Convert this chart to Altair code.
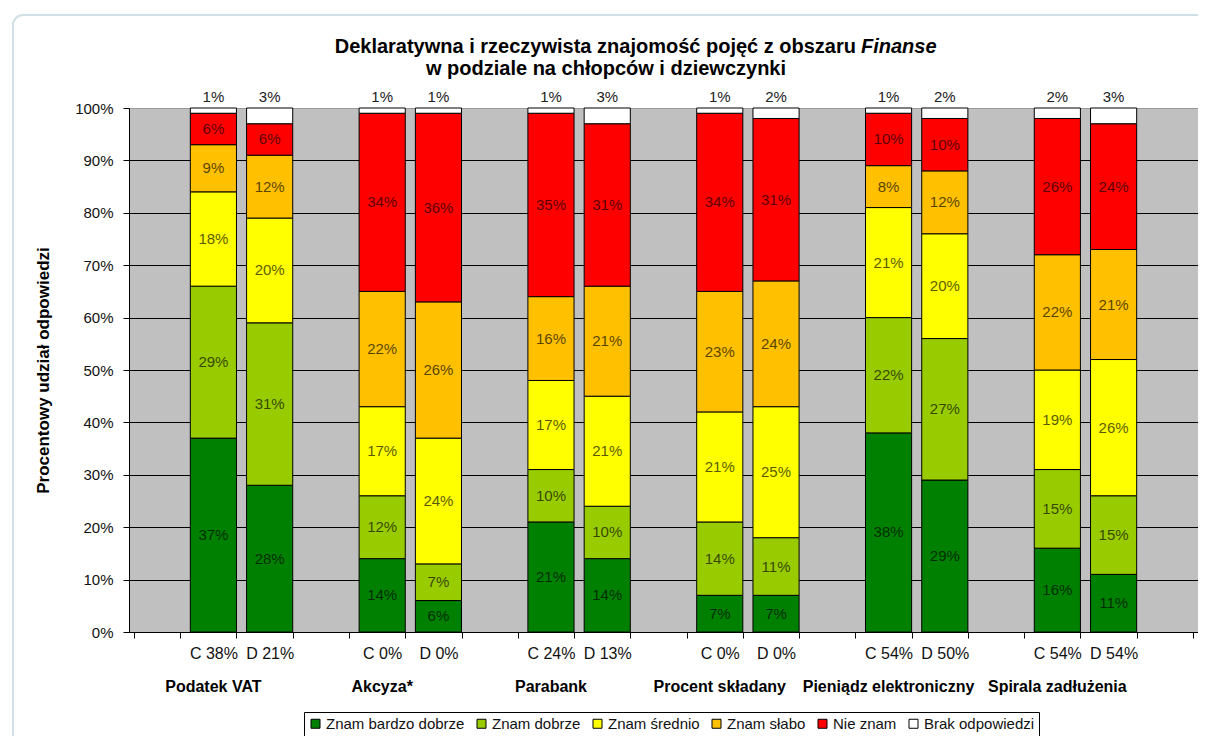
import json
import altair as alt
import pandas as pd

# ---------------- data ----------------
groups = ["Podatek VAT", "Akcyza*", "Parabank", "Procent składany",
          "Pieniądz elektroniczny", "Spirala zadłużenia"]
c_labels = ["C 38%", "C 0%", "C 24%", "C 0%", "C 54%", "C 54%"]
d_labels = ["D 21%", "D 0%", "D 13%", "D 0%", "D 50%", "D 54%"]
categories = ["Znam bardzo dobrze", "Znam dobrze", "Znam średnio",
              "Znam słabo", "Nie znam", "Brak odpowiedzi"]
colors = ["#008000", "#99CC00", "#FFFF00", "#FFC000", "#FF0000", "#FFFFFF"]

# boys (C)
c_bardzo = [37, 14, 21, 7, 38, 16]
c_dobrze = [29, 12, 10, 14, 22, 15]
c_srednio = [18, 17, 17, 21, 21, 19]
c_slabo = [9, 22, 16, 23, 8, 22]
c_nie = [6, 34, 35, 34, 10, 26]
c_brak = [1, 1, 1, 1, 1, 2]
# girls (D)
d_bardzo = [28, 6, 14, 7, 29, 11]
d_dobrze = [31, 7, 10, 11, 27, 15]
d_srednio = [20, 24, 21, 25, 20, 26]
d_slabo = [12, 26, 21, 24, 12, 21]
d_nie = [6, 36, 31, 31, 10, 24]
d_brak = [3, 1, 3, 2, 2, 3]

title_main = "Deklaratywna i rzeczywista znajomość pojęć z obszaru"
title_italic = "Finanse"
title_line2 = "w podziale na chłopców i dziewczynki"
y_title = "Procentowy udział odpowiedzi"

# ---------------- tables ----------------
c_vals = [c_bardzo, c_dobrze, c_srednio, c_slabo, c_nie, c_brak]
d_vals = [d_bardzo, d_dobrze, d_srednio, d_slabo, d_nie, d_brak]

slots = []
for i in range(len(groups)):
    slots += [f"e{i}", f"g{i}C", f"g{i}D"]
slots.append(f"e{len(groups)}")

rows = []
for i in range(len(groups)):
    for sex, vals in (("C", c_vals), ("D", d_vals)):
        for k, cat in enumerate(categories):
            v = vals[k][i]
            rows.append({"slot": f"g{i}{sex}", "cat": cat, "ord": k,
                         "value": v, "txt": f"{v}%"})
df = pd.DataFrame(rows)

label_keys, label_texts = [], []
for i in range(len(groups)):
    label_keys += [f"g{i}C", f"g{i}D"]
    label_texts += [c_labels[i], d_labels[i]]
keys_js = json.dumps(label_keys)
texts_js = json.dumps(label_texts)
label_expr = (f"indexof({keys_js}, datum.value) >= 0 ? "
              f"{texts_js}[indexof({keys_js}, datum.value)] : ''")

df_groups = pd.DataFrame({"slot": [f"g{i}C" for i in range(len(groups))],
                          "name": groups})

W, H = 1069, 524
FONT = "Liberation Sans, Arial, sans-serif"

x_scale = alt.Scale(domain=slots, paddingInner=0.18, paddingOuter=0.09)
x_axis = alt.Axis(title=None, labelExpr=label_expr, labelAngle=0,
                  tickBand="extent", tickSize=6, tickColor="black",
                  domainColor="black", labelFontSize=16, labelColor="#111111",
                  labelPadding=7, grid=False)
y_scale = alt.Scale(domain=[0, 100], nice=False)
y_axis = alt.Axis(values=list(range(0, 101, 10)),
                  labelExpr="datum.value + '%'",
                  title=y_title, titleFontSize=17, titleFontWeight="bold",
                  titleX=-86, titleY=H / 2, titleAngle=270,
                  titleAlign="center", titleBaseline="middle",
                  grid=True,
                  gridColor={"condition": {"test": "datum.value >= 100",
                                           "value": "#999999"},
                             "value": "black"},
                  gridWidth=1, tickSize=6, tickColor="black",
                  domainColor="black", labelFontSize=15, labelPadding=10,
                  labelColor="#111111")

x_enc = alt.X("slot:N", scale=x_scale, axis=x_axis, sort=slots)

base = alt.Chart(df).transform_stack(
    stack="value", groupby=["slot"], as_=["y0", "y1"],
    sort=[alt.SortField("ord", order="ascending")]
).transform_calculate(mid="(datum.y0 + datum.y1) / 2")

bars = base.mark_bar(stroke="black", strokeWidth=1).encode(
    x=x_enc,
    y=alt.Y("y0:Q", scale=y_scale, axis=y_axis),
    y2="y1:Q",
    color=alt.Color("cat:N", scale=alt.Scale(domain=categories, range=colors),
                    legend=alt.Legend(title=None, orient="none", legendX=175,
                                      legendY=604, direction="horizontal",
                                      columns=6, symbolType="square",
                                      symbolSize=81, symbolStrokeColor="black",
                                      symbolStrokeWidth=1, labelFontSize=15,
                                      labelColor="#111111", labelOffset=3,
                                      columnPadding=9, padding=4,
                                      strokeColor="black", fillColor="white",
                                      labelLimit=300)),
)

inner = base.transform_filter(alt.datum.cat != categories[-1]).mark_text(
    fontSize=15, color="black", opacity=0.65, baseline="middle"
).encode(x=x_enc, y=alt.Y("mid:Q", scale=y_scale, axis=y_axis), text="txt:N")

top = base.transform_filter(alt.datum.cat == categories[-1]).mark_text(
    fontSize=15, color="#222222", baseline="middle", dy=-11
).encode(x=x_enc, y=alt.Y("y1:Q", scale=y_scale, axis=y_axis), text="txt:N")

glabels = alt.Chart(df_groups).mark_text(
    fontSize=16, fontWeight="bold", color="black", baseline="middle"
).encode(x=x_enc, y=alt.value(H + 55), text="name:N")

one = pd.DataFrame({"a": [0]})
frame = alt.Chart(one).mark_rect(
    fill="transparent", stroke="#cfdfe5", strokeWidth=2, cornerRadius=10
).encode(x=alt.value(-116), x2=alt.value(1090), y=alt.value(-93),
         y2=alt.value(660))

t1 = alt.Chart(pd.DataFrame({"t": [title_main]})).mark_text(
    fontSize=20, fontWeight="bold", align="right", baseline="middle",
    color="black"
).encode(text="t:N", x=alt.value(727), y=alt.value(-61))
t1i = alt.Chart(pd.DataFrame({"t": [title_italic]})).mark_text(
    fontSize=20, fontWeight="bold", fontStyle="italic", align="left",
    baseline="middle", color="black"
).encode(text="t:N", x=alt.value(732), y=alt.value(-61))
t2 = alt.Chart(pd.DataFrame({"t": [title_line2]})).mark_text(
    fontSize=20, fontWeight="bold", align="center", baseline="middle",
    color="black"
).encode(text="t:N", x=alt.value(477), y=alt.value(-39))

chart = alt.layer(frame, bars, inner, top, glabels, t1, t1i, t2).properties(
    width=W, height=H,
    padding={"left": 121, "top": 100, "right": 0, "bottom": 104},
    autosize=alt.AutoSizeParams(type="none"),
).configure(font=FONT, background="white").configure_view(
    fill="#C0C0C0", stroke="#999999"
)

chart.save("out.html", embed_options={"renderer": "svg", "actions": False})
